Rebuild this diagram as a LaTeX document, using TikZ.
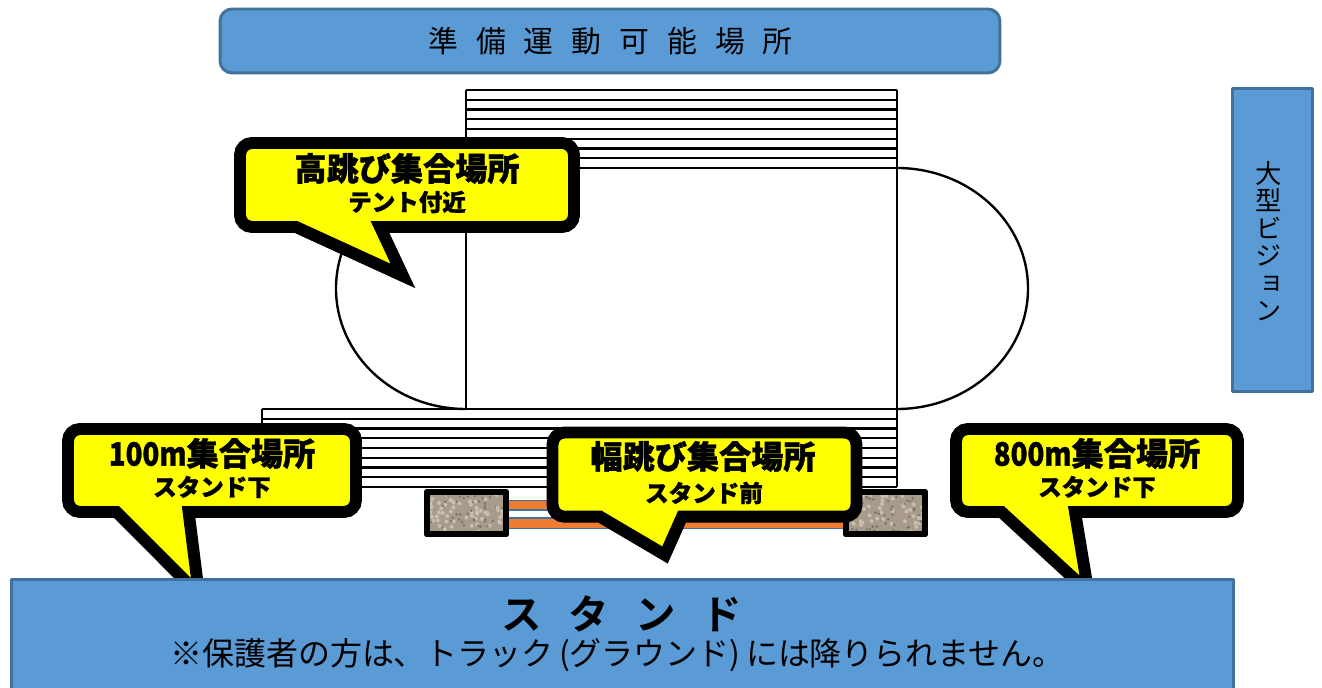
\documentclass[tikz,border=0pt]{standalone}
\usepackage{fontspec}
\setmainfont{Noto Sans CJK JP}
\newfontfamily\jpheavy[FakeBold=1.2]{Noto Sans CJK JP Black}
\newfontfamily\jpvert[RawFeature=+vert]{Noto Sans CJK JP}
\newfontfamily\jpwide[LetterSpace=60]{Noto Sans CJK JP}
\newfontfamily\jpwidebold[LetterSpace=65]{Noto Sans CJK JP Bold}
\definecolor{panelblue}{HTML}{5B9BD5}
\definecolor{paneledge}{HTML}{41719C}
\definecolor{laneorange}{HTML}{ED7D31}
\definecolor{gravel}{HTML}{A89B8C}
\definecolor{gravellight}{HTML}{C9BFB1}
\definecolor{graveldark}{HTML}{7A6F62}
\definecolor{calloutyellow}{HTML}{FFFF00}
\tikzset{
	panel/.style={draw=paneledge,fill=panelblue,line width=1.7pt,inner sep=0pt},
	callout/.style={draw=black,fill=calloutyellow,line width=6.8pt,line join=miter,miter limit=20},
	title/.style={font=\jpheavy\fontsize{18.3}{20}\selectfont,inner sep=0pt},
	subtitle/.style={font=\jpheavy\fontsize{13.4}{15}\selectfont,inner sep=0pt},
	seat/.style={draw=black,line width=1.35pt},
	lane/.style={draw=paneledge,fill=laneorange,line width=1.1pt},
	brick/.style={draw=black,fill=gravel,line width=3.4pt},
}
\begin{document}
\begin{tikzpicture}[x=0.02cm,y=-0.02cm,line join=round]
	\clip (0,0) rectangle (1322,688);
	% top panel and screen
	\node[panel,rounded corners=0.24cm,minimum width=15.6cm,minimum height=1.28cm] (warmup) at (610,41) {};
	\node[font=\jpwide\fontsize{17}{20}\selectfont,inner sep=0pt] (warmuptext) at (610.5,41) {準備運動可能場所};
	\node[panel,minimum width=1.6cm,minimum height=6.08cm] (vision) at (1272,240) {};
	\node[font=\jpvert\fontsize{15}{15.6}\selectfont,align=center,inner sep=0pt] (visiontext) at (1269,241) {大\\型\\ビ\\ジ\\ョ\\ン};
	% seats
	\foreach \i in {0,...,8} {
		\draw[seat] (466,90+\i*9.75)--(897,90+\i*9.75);
		\draw[seat] (262,409+\i*9.75)--(897,409+\i*9.75);
	}
	\draw[seat] (466,90)--(466,168) (897,90)--(897,168);
	\draw[seat] (262,409)--(262,487) (897,409)--(897,487);
	% track
	\draw[seat] (466,168) rectangle (897,409);
	\draw[seat] (466,168) .. controls (394,168) and (336,222) .. (336,288.5) .. controls (336,355) and (394,409) .. (466,409);
	\draw[seat] (897,168) .. controls (969,168) and (1028,222) .. (1028,288.5) .. controls (1028,355) and (969,409) .. (897,409);
	% long jump
	\draw[lane] (505,500.5) rectangle (845,510);
	\draw[lane] (505,518) rectangle (845,528.5);
	\foreach \bx/\seed in {424/11,843/29} {
		\draw[brick] (\bx+3,492.3) rectangle (\bx+82,534);
		\begin{scope}
			\clip (\bx+3,492.3) rectangle (\bx+82,534);
			\pgfmathsetseed{\seed}
			\foreach \k in {1,...,110} {
				\pgfmathsetmacro{\px}{\bx+3+rnd*79}
				\pgfmathsetmacro{\py}{492+rnd*42}
				\pgfmathsetmacro{\pc}{rnd}
				\ifdim\pc pt<0.55pt
					\fill[gravellight] (\px,\py) circle (2);
				\else
					\fill[graveldark] (\px,\py) circle (1.3);
				\fi
			}
		\end{scope}
		\draw[black,line width=3.4pt] (\bx+3,492.3) rectangle (\bx+82,534);
	}
	% callouts
	\draw[callout] (380,227) [rounded corners=0.24cm] -- (574,227) -- (574,143) -- (240,143) -- (240,227) -- (270,227) [sharp corners] -- (296,227) -- (403,276) -- cycle;
	\node[title] (highjump) at (407,168.5) {高跳び集合場所};
	\node[subtitle] (highjumpsub) at (407,202) {テント付近};

	\draw[callout] (188.6,512) [rounded corners=0.24cm] -- (356,512) -- (356,429) -- (68,429) -- (68,512) -- (95,512) [sharp corners] -- (116.5,512) -- (199,594.6) -- cycle;
	\node[title] (sprint) at (212,453.5) {\scalebox{.86}[1]{100m}集合場所};
	\node[subtitle] (sprintsub) at (212,487) {スタンド下};

	\draw[callout] (1075,512) [rounded corners=0.24cm] -- (1238,512) -- (1238,429) -- (956,429) -- (956,512) -- (980,512) [sharp corners] -- (1001.5,512) -- (1088.3,591.8) -- cycle;
	\node[title] (middle) at (1097,453.5) {\scalebox{.86}[1]{800m}集合場所};
	\node[subtitle] (middlesub) at (1097,487) {スタンド下};

	\draw[callout] (682,516.7) [rounded corners=0.24cm] -- (856.5,516.7) -- (856.5,432.5) -- (552.5,432.5) -- (552.5,516.7) -- (580,516.7) [sharp corners] -- (600,516.7) -- (665,555) -- cycle;
	\node[title] (longjump) at (703,456.5) {幅跳び集合場所};
	\node[subtitle] (longjumpsub) at (704,493) {スタンド前};
	% stand
	\node[panel,minimum width=24.44cm,minimum height=2.4cm,anchor=north west] (stand) at (10,578) {};
	\node[font=\jpwidebold\fontsize{23}{25}\selectfont,inner sep=0pt] (standtext) at (622,614) {スタンド};
	\node[font=\fontsize{18.2}{20}\selectfont,inner sep=0pt] (standnote) at (617.5,655) {※保護者の方は、トラック\,(グラウンド)\,には降りられません。};
\end{tikzpicture}
\end{document}
